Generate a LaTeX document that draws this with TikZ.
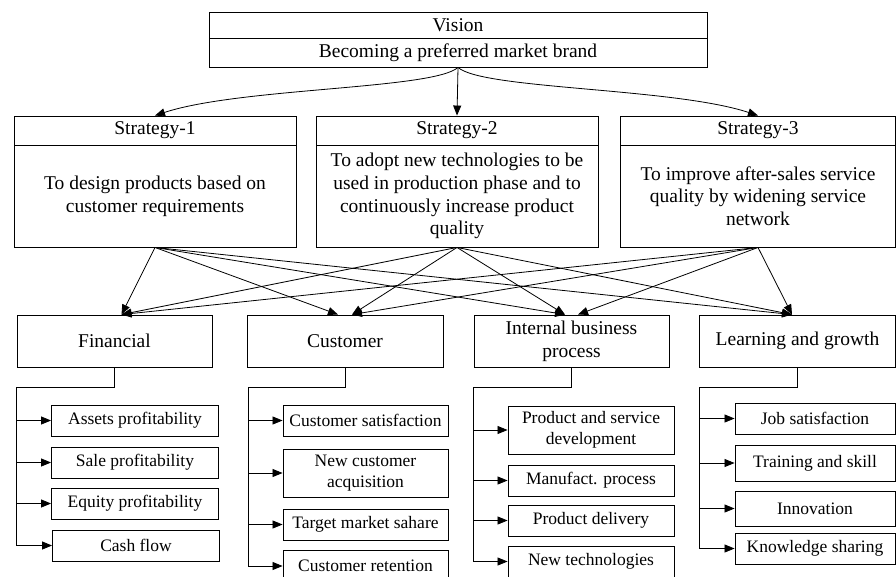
\documentclass[tikz,border=0pt]{standalone}
\usepackage{fontspec}
\setmainfont{Liberation Serif}
\usetikzlibrary{arrows.meta}

\begin{document}
\begin{tikzpicture}[x=1pt, y=-1pt, > = {Triangle[length=10pt,width=8pt]},
    box/.style = {draw, line width=0.9pt, inner sep=2pt, align=center, font=\fontsize{19.5}{22.7}\selectfont},
    subbox/.style = {draw, line width=0.9pt, inner sep=1pt, align=center, minimum height=31pt, font=\fontsize{17.5}{21}\selectfont},
    link/.style = {line width=0.8pt, ->}]

    \useasboundingbox (0,0) rectangle (896,576);

    % vision
    \node[box, minimum width=498pt, minimum height=26pt] (visionhead) at (458,25) {Vision};
    \node[box, minimum width=498pt, minimum height=29pt] (visionbody) at (458,52.5) {Becoming a preferred market brand};

    % strategies
    \node[box, minimum width=282pt, minimum height=29pt] (s1head) at (155,130.5) {Strategy-1};
    \node[box, minimum width=282pt, minimum height=102pt] (s1body) at (155,196) {To design products based on\\customer requirements};
    \node[box, minimum width=282pt, minimum height=29pt] (s2head) at (457,130.5) {Strategy-2};
    \node[box, minimum width=282pt, minimum height=102pt] (s2body) at (457,196) {To adopt new technologies to be\\used in production phase and to\\continuously increase product\\quality};
    \node[box, minimum width=275pt, minimum height=29pt] (s3head) at (758,130.5) {Strategy-3};
    \node[box, minimum width=275pt, minimum height=102pt] (s3body) at (758,196) {To improve after-sales service\\quality by widening service\\network};

    \draw[link] (visionbody.south) .. controls +(-25,22) and +(85,-28) .. (s1head.north);
    \draw[link] (visionbody.south) -- (s2head.north);
    \draw[link] (visionbody.south) .. controls +(25,22) and +(-85,-28) .. (s3head.north);

    % perspectives
    \node[box, minimum width=195pt, minimum height=52pt] (fin) at (114.5,341) {Financial};
    \node[box, minimum width=196pt, minimum height=52pt] (cust) at (345,341) {Customer};
    \node[box, minimum width=195pt, minimum height=52pt] (ibp) at (571.5,341) {Internal business\\process};
    \node[box, minimum width=196pt, minimum height=52pt] (lg) at (797.5,341) {Learning and growth};

    \foreach \s in {s1body,s2body,s3body}
        \draw[link] (\s.south) -- ([xshift=7pt]fin.north);
    \draw[link] (s1body.south) -- ([xshift=-7pt]cust.north);
    \foreach \s in {s2body,s3body}
        \draw[link] (\s.south) -- ([xshift=7pt]cust.north);
    \foreach \s in {s1body,s2body}
        \draw[link] (\s.south) -- ([xshift=-6.5pt]ibp.north);
    \draw[link] (s3body.south) -- ([xshift=6.5pt]ibp.north);
    \foreach \s in {s1body,s2body,s3body}
        \draw[link] (\s.south) -- ([xshift=-5.5pt]lg.north);

    % financial measures
    \node[subbox, minimum width=167pt] (fa1) at (135,420.5) {Assets profitability};
    \node[subbox, minimum width=167pt] (fa2) at (135,462.5) {Sale profitability};
    \node[subbox, minimum width=167pt] (fa3) at (135,503.5) {Equity profitability};
    \node[subbox, minimum width=167pt] (fa4) at (136,545.5) {Cash flow};

    % customer measures
    \node[subbox, minimum width=165pt] (cu1) at (365.5,420.5) {Customer satisfaction};
    \node[subbox, minimum width=165pt, minimum height=48pt] (cu2) at (365.5,473) {New customer\\acquisition};
    \node[subbox, minimum width=165pt] (cu3) at (365.5,524.5) {Target market sahare};
    \node[subbox, minimum width=165pt] (cu4) at (365.5,566) {Customer retention};

    % internal process measures
    \node[subbox, minimum width=166pt, minimum height=48pt] (ip1) at (591,430) {Product and service\\development};
    \node[subbox, minimum width=166pt] (ip2) at (591,480.5) {Manufact. process};
    \node[subbox, minimum width=166pt] (ip3) at (591,520.5) {Product delivery};
    \node[subbox, minimum width=166pt] (ip4) at (591,561.5) {New technologies};

    % learning measures
    \node[subbox, minimum width=160pt] (lg1) at (815,418.5) {Job satisfaction};
    \node[subbox, minimum width=160pt, minimum height=36pt] (lg2) at (815,463) {Training and skill};
    \node[subbox, minimum width=160pt, minimum height=35pt] (lg3) at (815,508.5) {Innovation};
    \node[subbox, minimum width=160pt] (lg4) at (815,548.5) {Knowledge sharing};

    % trees
    \coordinate (finbar) at (16,387);
    \coordinate (custbar) at (248,387);
    \coordinate (ipbar) at (473,387);
    \coordinate (lgbar) at (699,387);

    \draw[line width=0.8pt] (fin.south) |- (finbar);
    \draw[link] (finbar) |- (fa4.west);
    \foreach \n in {fa1,fa2,fa3}
        \draw[link] (finbar |- \n.west) -- (\n.west);

    \draw[line width=0.8pt] (cust.south) |- (custbar);
    \draw[link] (custbar) |- (cu4.west);
    \foreach \n in {cu1,cu2,cu3}
        \draw[link] (custbar |- \n.west) -- (\n.west);

    \draw[line width=0.8pt] (ibp.south) |- (ipbar);
    \draw[link] (ipbar) |- (ip4.west);
    \foreach \n in {ip1,ip2,ip3}
        \draw[link] (ipbar |- \n.west) -- (\n.west);

    \draw[line width=0.8pt] (lg.south) |- (lgbar);
    \draw[link] (lgbar) |- (lg4.west);
    \foreach \n in {lg1,lg2,lg3}
        \draw[link] (lgbar |- \n.west) -- (\n.west);

\end{tikzpicture}
\end{document}
